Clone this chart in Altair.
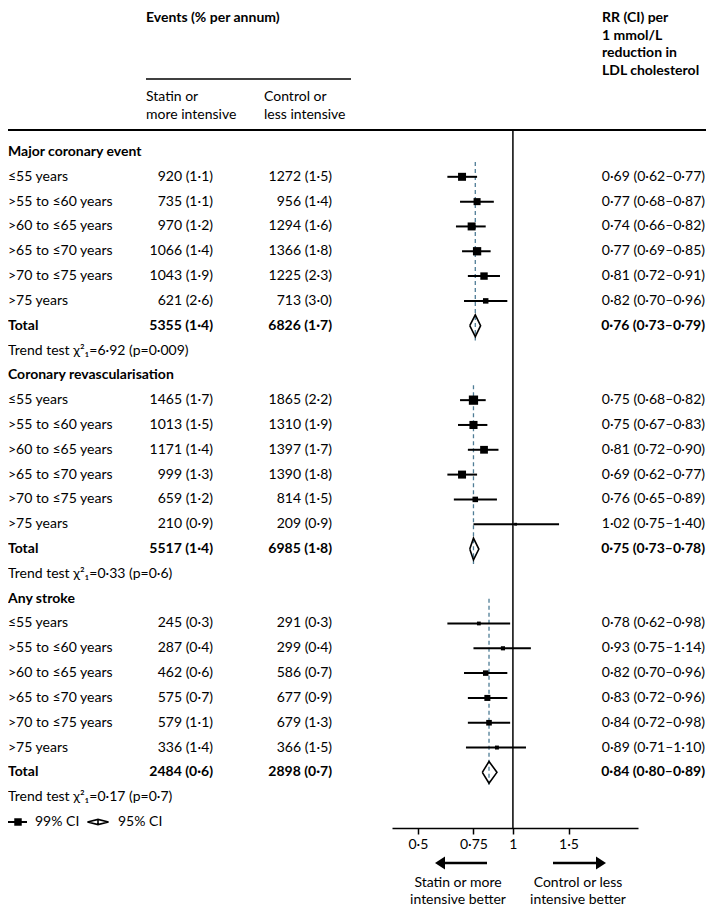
import math
import altair as alt
import pandas as pd

# ---------------- data ----------------
groups = ["Major coronary event", "Coronary revascularisation", "Any stroke"]
age_bands = ["≤55 years", ">55 to ≤60 years", ">60 to ≤65 years",
             ">65 to ≤70 years", ">70 to ≤75 years", ">75 years"]

statin_events = [[920, 735, 970, 1066, 1043, 621],
                 [1465, 1013, 1171, 999, 659, 210],
                 [245, 287, 462, 575, 579, 336]]
statin_rate = [[1.1, 1.1, 1.2, 1.4, 1.9, 2.6],
               [1.7, 1.5, 1.4, 1.3, 1.2, 0.9],
               [0.3, 0.4, 0.6, 0.7, 1.1, 1.4]]
control_events = [[1272, 956, 1294, 1366, 1225, 713],
                  [1865, 1310, 1397, 1390, 814, 209],
                  [291, 299, 586, 677, 679, 366]]
control_rate = [[1.5, 1.4, 1.6, 1.8, 2.3, 3.0],
                [2.2, 1.9, 1.7, 1.8, 1.5, 0.9],
                [0.3, 0.4, 0.7, 0.9, 1.3, 1.5]]
rr = [[0.69, 0.77, 0.74, 0.77, 0.81, 0.82],
      [0.75, 0.75, 0.81, 0.69, 0.76, 1.02],
      [0.78, 0.93, 0.82, 0.83, 0.84, 0.89]]
rr_lo = [[0.62, 0.68, 0.66, 0.69, 0.72, 0.70],
         [0.68, 0.67, 0.72, 0.62, 0.65, 0.75],
         [0.62, 0.75, 0.70, 0.72, 0.72, 0.71]]
rr_hi = [[0.77, 0.87, 0.82, 0.85, 0.91, 0.96],
         [0.82, 0.83, 0.90, 0.77, 0.89, 1.40],
         [0.98, 1.14, 0.96, 0.96, 0.98, 1.10]]

statin_total = [5355, 5517, 2484]
statin_total_rate = [1.4, 1.4, 0.6]
control_total = [6826, 6985, 2898]
control_total_rate = [1.7, 1.8, 0.7]
rr_total = [0.76, 0.75, 0.84]
rr_total_lo = [0.73, 0.73, 0.80]
rr_total_hi = [0.79, 0.78, 0.89]
trend_chi2 = [6.92, 0.33, 0.17]
trend_p = [0.009, 0.6, 0.7]

axis_ticks = [0.5, 0.75, 1, 1.5]

# ---------------- helpers ----------------
FONT = "Lato"
FS = 14


def dot(v, d=None):
    s = f"{v:.{d}f}" if d is not None else f"{v}"
    return s.replace(".", "·")


rows, forest, diamonds, dashes = [], [], [], []
dash_top = [0.4, 0.4, 0.0]
for g, name in enumerate(groups):
    base = 9 * g
    rows.append(dict(k=base, label=name, bold=True, statin="", control="", rrtxt=""))
    for i, age in enumerate(age_bands):
        k = base + 1 + i
        rows.append(dict(
            k=k, label=age, bold=False,
            statin=f"{statin_events[g][i]} ({dot(statin_rate[g][i], 1)})",
            control=f"{control_events[g][i]} ({dot(control_rate[g][i], 1)})",
            rrtxt=f"{dot(rr[g][i], 2)} ({dot(rr_lo[g][i], 2)}–{dot(rr_hi[g][i], 2)})"))
        lo, hi = rr_lo[g][i], rr_hi[g][i]
        forest.append(dict(k=k, rr=rr[g][i], lo=lo, hi=hi,
                           w=1.0 / math.log(hi / lo) ** 2))
    kt = base + 7
    rows.append(dict(
        k=kt, label="Total", bold=True,
        statin=f"{statin_total[g]} ({dot(statin_total_rate[g], 1)})",
        control=f"{control_total[g]} ({dot(control_total_rate[g], 1)})",
        rrtxt=f"{dot(rr_total[g], 2)} ({dot(rr_total_lo[g], 2)}–{dot(rr_total_hi[g], 2)})"))
    pts = [(rr_total_lo[g], kt), (rr_total[g], kt - 0.44), (rr_total_hi[g], kt),
           (rr_total[g], kt + 0.44), (rr_total_lo[g], kt)]
    for o, (xv, yv) in enumerate(pts):
        diamonds.append(dict(g=g, o=o, x=xv, y=yv))
    rows.append(dict(k=base + 8,
                     label=f"Trend test χ²₁={dot(trend_chi2[g])} (p={dot(trend_p[g])})",
                     bold=False, statin="", control="", rrtxt=""))
    dashes.append(dict(x=rr_total[g], y0=base + dash_top[g], y1=base + 7.6))

rows_df = pd.DataFrame(rows)
forest_df = pd.DataFrame(forest)
diam_df = pd.DataFrame(diamonds)
dash_df = pd.DataFrame(dashes)
one = pd.DataFrame({"a": [0]})
legend_df = pd.DataFrame({"k": [27]})
unity_df = pd.DataFrame({"x": [1.0]})

xscale = alt.Scale(type="log", domain=[0.414, 2.49], range=[384, 630], nice=False)
xaxis = alt.Axis(values=axis_ticks, title=None, grid=False, domainColor="black",
                 domainWidth=1.5, tickColor="black", tickWidth=1.5, tickSize=6,
                 labelFont=FONT, labelFontSize=FS, labelColor="black",
                 labelPadding=3, labelFlush=False,
                 labelExpr="replace(format(datum.value, ''), '.', '·')")
yscale = alt.Scale(domain=[0, 27], range=[144, 814], nice=False, zero=False)


def X(f):
    return alt.X(f, type="quantitative", scale=xscale, axis=xaxis)


def Y(f):
    return alt.Y(f, type="quantitative", scale=yscale, axis=None)


def txt(text, x, y, align="left", bold=False):
    return alt.Chart(one).mark_text(
        text=text, align=align, baseline="middle", font=FONT, fontSize=FS,
        fontWeight="bold" if bold else "normal", color="black"
    ).encode(x=alt.value(x), y=alt.value(y))


def hrule(x1, x2, y, w):
    return alt.Chart(one).mark_rule(color="black", strokeWidth=w).encode(
        x=alt.value(x1), x2=alt.value(x2), y=alt.value(y))


layers = []
# header
layers += [
    txt("Events (% per annum)", 138, 10, bold=True),
    hrule(138, 343, 71, 1.5),
    txt("Statin or", 138, 89), txt("more intensive", 138, 107),
    txt("Control or", 256, 89), txt("less intensive", 256, 107),
    txt("RR (CI) per", 594, 10, bold=True), txt("1 mmol/L", 594, 27.5, bold=True),
    txt("reduction in", 594, 45, bold=True), txt("LDL cholesterol", 594, 62.5, bold=True),
    hrule(0, 698, 122, 2),
]

# text columns
for bold in (False, True):
    sub = rows_df[rows_df["bold"] == bold]
    for field, xpos, align in (("label", 0, "left"), ("statin", 205, "right"),
                               ("control", 324, "right"), ("rrtxt", 697, "right")):
        layers.append(
            alt.Chart(sub).mark_text(
                align=align, baseline="middle", font=FONT, fontSize=FS,
                fontWeight="bold" if bold else "normal", color="black"
            ).encode(x=alt.value(xpos), y=Y("k"), text=alt.Text(f"{field}:N")))

# forest plot
layers.append(alt.Chart(unity_df).mark_rule(color="black", strokeWidth=1.5).encode(
    x=X("x"), y=alt.value(122), y2=alt.value(820)))
layers.append(alt.Chart(dash_df).mark_rule(color="#4f7d96", strokeWidth=1.3,
                                           strokeDash=[4, 3]).encode(
    x=X("x"), y=Y("y0"), y2=alt.Y2("y1")))
layers.append(alt.Chart(forest_df).mark_rule(color="black", strokeWidth=2).encode(
    x=X("lo"), x2=alt.X2("hi"), y=Y("k")))
layers.append(alt.Chart(forest_df).mark_square(color="black", opacity=1).encode(
    x=X("rr"), y=Y("k"),
    size=alt.Size("w:Q", scale=alt.Scale(domain=[0, 25], range=[0, 75]), legend=None)))
layers.append(alt.Chart(diam_df).mark_line(color="black", strokeWidth=1.6,
                                           strokeJoin="miter").encode(
    x=X("x"), y=Y("y"), detail="g:N", order=alt.Order("o:Q")))

# legend
layers += [
    alt.Chart(legend_df).mark_rule(color="black", strokeWidth=2).encode(
        x=alt.value(0), x2=alt.value(19), y=Y("k")),
    alt.Chart(legend_df).mark_square(color="black", size=56, opacity=1).encode(
        x=alt.value(10), y=Y("k")),
    alt.Chart(legend_df).mark_text(text="99% CI", align="left", baseline="middle",
                                   font=FONT, fontSize=FS, color="black").encode(
        x=alt.value(27), y=Y("k")),
    alt.Chart(legend_df).mark_point(
        shape="M -1 0 L 0 -0.25 L 1 0 L 0 0.25 Z M 0 -0.25 L 0 0.25",
        size=441, filled=False, color="black", strokeWidth=1.6, opacity=1).encode(
        x=alt.value(90), y=Y("k")),
    alt.Chart(legend_df).mark_text(text="95% CI", align="left", baseline="middle",
                                   font=FONT, fontSize=FS, color="black").encode(
        x=alt.value(110), y=Y("k")),
]

# arrows under axis
layers += [
    hrule(434, 479, 855, 2.5),
    alt.Chart(one).mark_point(shape="M -1 0 L 1 -1.3 L 1 1.3 Z", size=100,
                              filled=True, color="black", opacity=1).encode(
        x=alt.value(432), y=alt.value(855)),
    hrule(545, 592, 855, 2.5),
    alt.Chart(one).mark_point(shape="M 1 0 L -1 -1.3 L -1 1.3 Z", size=100,
                              filled=True, color="black", opacity=1).encode(
        x=alt.value(593), y=alt.value(855)),
    txt("Statin or more", 450, 875, align="center"),
    txt("intensive better", 450, 892, align="center"),
    txt("Control or less", 570, 875, align="center"),
    txt("intensive better", 570, 892, align="center"),
]

chart = alt.layer(*layers).properties(
    width=698, height=820,
    padding={"left": 0, "top": 0, "right": 0, "bottom": 78},
    autosize=alt.AutoSizeParams(type="none"),
).configure_view(stroke=None)

chart.save("out.html", embed_options={"renderer": "svg", "actions": False})
